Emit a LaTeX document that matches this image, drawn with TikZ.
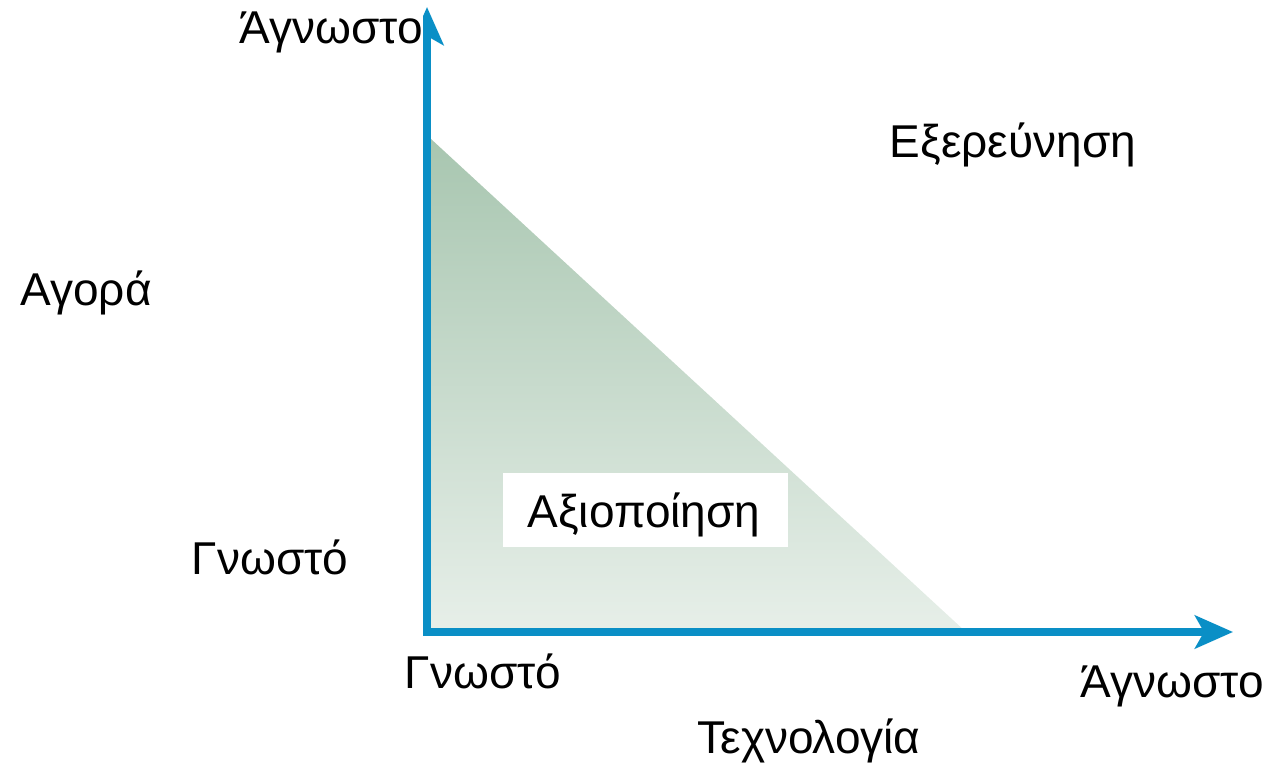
\documentclass[tikz,border=0pt]{standalone}
\usepackage{fontspec}
\setmainfont{Liberation Sans}
\usetikzlibrary{arrows.meta}
\definecolor{axisblue}{HTML}{0A8FC6}
\definecolor{trtop}{HTML}{A8C6B0}
\definecolor{trbot}{HTML}{E7EFE9}
\begin{document}
\begin{tikzpicture}[x=1pt,y=-1pt,
  lbl/.style={font=\fontsize{46}{52}\selectfont, inner sep=0pt, anchor=base},
  axisline/.style={draw=axisblue, line width=7.5pt, line join=miter,
    {Stealth[length=38pt,width=33pt,inset=9pt]}-{Stealth[length=38pt,width=33pt,inset=9pt]}}]
\useasboundingbox (0,0) rectangle (1284,777);
% triangle
\coordinate (tA) at (431,139);
\coordinate (tB) at (431,632);
\coordinate (tC) at (966,632);
\shade[top color=trtop, bottom color=trbot] (tA) -- (tB) -- (tC) -- cycle;
% axes
\coordinate (ytip) at (427,7);
\coordinate (orig) at (427,632);
\coordinate (xtip) at (1233,632);
\draw[axisline] (ytip) -- (orig) -- (xtip);
% labels
\node[lbl, anchor=base east, fill=white] (ytop) at (423,43) {Άγνωστο};
\node[lbl] (explore) at (1013,157) {Εξερεύνηση};
\node[lbl] (market) at (86,305) {Αγορά};
\node[lbl] (yknown) at (270,574) {Γνωστό};
\node[fill=white, minimum width=285pt, minimum height=74pt, inner sep=0pt] (boxA) at (645.5,510) {};
\node[lbl] (exploit) at (644,527) {Αξιοποίηση};
\node[lbl] (xknown) at (483,688) {Γνωστό};
\node[lbl] (xunknown) at (1172,697) {Άγνωστο};
\node[lbl] (tech) at (809,753) {Τεχνολογία};
\end{tikzpicture}
\end{document}
